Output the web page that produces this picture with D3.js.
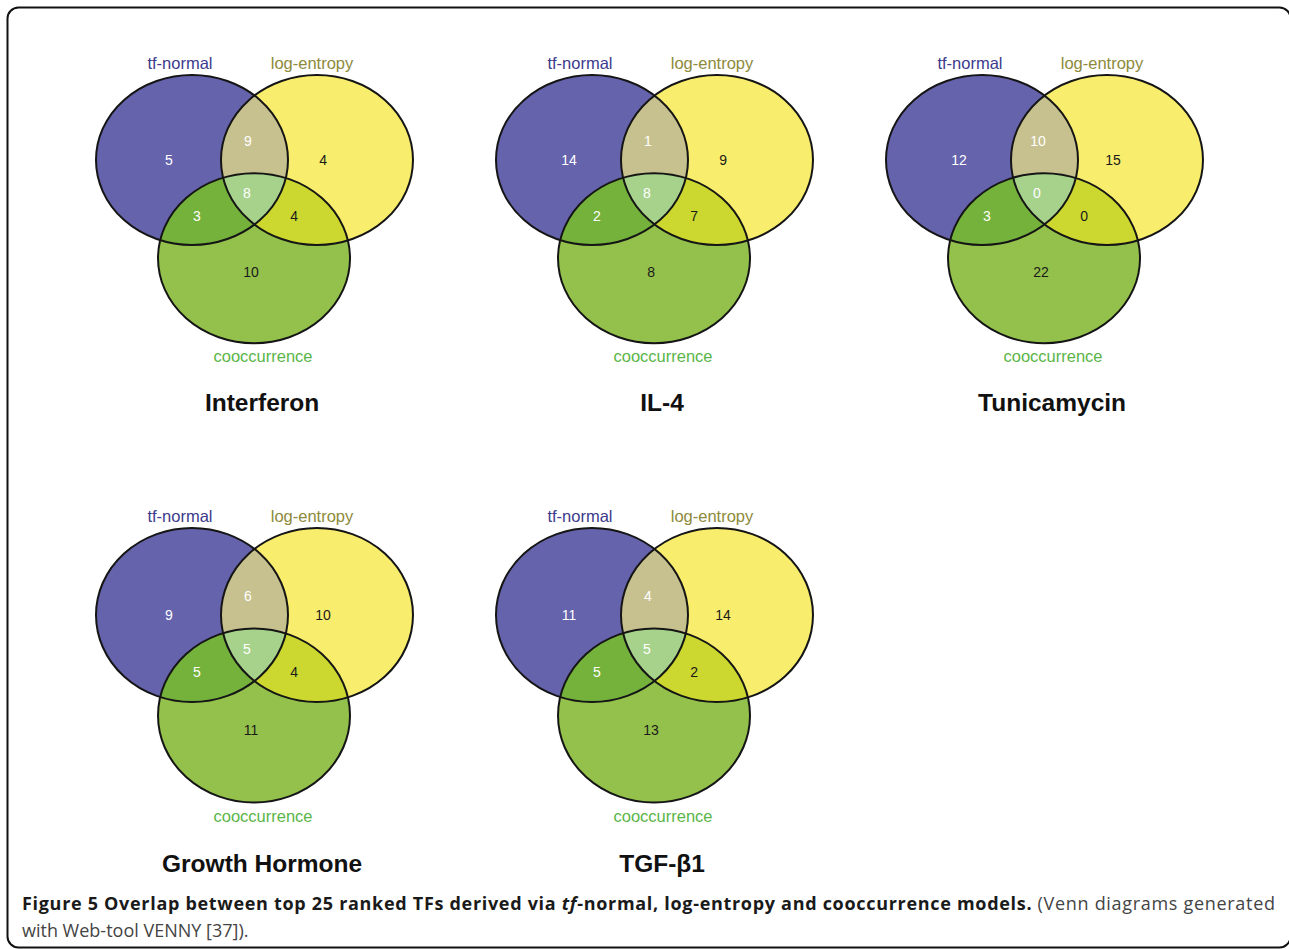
<!DOCTYPE html>
<html>
<head>
<meta charset="utf-8">
<script src="https://cdn.jsdelivr.net/npm/d3@7"></script>
<style>
  body { margin: 0; background: #fff; }
  svg { display: block; }
</style>
</head>
<body>
<svg id="fig" width="1289" height="949"></svg>
<script>
// Five conditions, three ranking models, seven Venn regions each
const conditions = ["Interferon", "IL-4", "Tunicamycin", "Growth Hormone", "TGF-β1"];
const setNames = ["tf-normal", "log-entropy", "cooccurrence"];
// region order: only tf-normal, tf∩log, only log, all three, tf∩cooc, log∩cooc, only cooc
const regionKeys = ["A", "AB", "B", "ABC", "AC", "BC", "C"];
const interferonCounts = [5, 9, 4, 8, 3, 4, 10];
const il4Counts = [14, 1, 9, 8, 2, 7, 8];
const tunicamycinCounts = [12, 10, 15, 0, 3, 0, 22];
const growthHormoneCounts = [9, 6, 10, 5, 5, 4, 11];
const tgfCounts = [11, 4, 14, 5, 5, 2, 13];
const countsByCondition = [interferonCounts, il4Counts, tunicamycinCounts, growthHormoneCounts, tgfCounts];

// ---- layout (venn units: tf-normal ellipse centred at 0,0 with unit radii) ----
const panelGrid = [[0, 0], [1, 0], [2, 0], [0, 1], [1, 1]];
const colCenter = [192, 592, 982];
const rowCenter = [160, 615];
const rowRadiusY = [85, 87];
const radiusX = 96;

const setCenters = { A: [0, 0], B: [1.302, 0], C: [0.646, 1.155] };
const regionAnchor = {
  A: [-0.24, 0], AB: [0.583, -0.224], B: [1.365, 0], ABC: [0.573, 0.39],
  AC: [0.052, 0.655], BC: [1.065, 0.66], C: [0.615, 1.32]
};
const labelAnchor = [[-0.125, -1.14], [1.25, -1.14], [0.74, 2.305]];
const titleAnchor = [0.73, 2.855];

const fills = {
  A: "#6663ad", B: "#f8ed6c", C: "#93c14b",
  AB: "#c7c18f", AC: "#74b23c", BC: "#ccd72f", ABC: "#a7d28c"
};
const numberColor = { A: "#fff", AB: "#fff", ABC: "#fff", AC: "#fff", B: "#1a1a1a", BC: "#1a1a1a", C: "#1a1a1a" };
const labelColors = ["#3b3a8c", "#8d8a3b", "#5ab548"];

const svg = d3.select("#fig");
const defs = svg.append("defs");

// outer frame (right edge runs off the page)
svg.append("rect")
  .attr("x", 7.5).attr("y", 7.5)
  .attr("width", 1283).attr("height", 940)
  .attr("rx", 11).attr("ry", 11)
  .attr("fill", "none").attr("stroke", "#111").attr("stroke-width", 2);

conditions.forEach((name, i) => {
  const [col, row] = panelGrid[i];
  const ry = rowRadiusY[row];
  const x = d3.scaleLinear().domain([0, 1]).range([colCenter[col], colCenter[col] + radiusX]);
  const y = d3.scaleLinear().domain([0, 1]).range([rowCenter[row], rowCenter[row] + ry]);
  const counts = countsByCondition[i];

  const ell = (sel, key) => sel
    .attr("cx", x(setCenters[key][0]))
    .attr("cy", y(setCenters[key][1]))
    .attr("rx", x(1) - x(0))
    .attr("ry", y(1) - y(0));

  ["A", "B", "C"].forEach(k => {
    ell(defs.append("clipPath").attr("id", `clip${k}${i}`).append("ellipse"), k);
  });

  const g = svg.append("g").attr("class", "venn");

  // single sets
  ["A", "B", "C"].forEach(k => ell(g.append("ellipse"), k).attr("fill", fills[k]));
  // pairwise overlaps
  ell(g.append("ellipse"), "B").attr("clip-path", `url(#clipA${i})`).attr("fill", fills.AB);
  ell(g.append("ellipse"), "C").attr("clip-path", `url(#clipA${i})`).attr("fill", fills.AC);
  ell(g.append("ellipse"), "C").attr("clip-path", `url(#clipB${i})`).attr("fill", fills.BC);
  // triple overlap
  ell(g.append("g").attr("clip-path", `url(#clipA${i})`).append("ellipse"), "C")
    .attr("clip-path", `url(#clipB${i})`).attr("fill", fills.ABC);
  // outlines
  ["A", "B", "C"].forEach(k => ell(g.append("ellipse"), k)
    .attr("fill", "none").attr("stroke", "#151515").attr("stroke-width", 2));

  // region counts
  g.selectAll("text.count").data(regionKeys).join("text")
    .attr("class", "count")
    .attr("x", k => x(regionAnchor[k][0]))
    .attr("y", k => y(regionAnchor[k][1]))
    .attr("text-anchor", "middle")
    .attr("dominant-baseline", "central")
    .attr("font-family", "Liberation Sans, Arial, sans-serif")
    .attr("font-size", 14)
    .attr("fill", k => numberColor[k])
    .text((k, j) => counts[j]);

  // set labels
  g.selectAll("text.setlabel").data(setNames).join("text")
    .attr("class", "setlabel")
    .attr("x", (d, j) => x(labelAnchor[j][0]))
    .attr("y", (d, j) => y(labelAnchor[j][1]))
    .attr("text-anchor", "middle")
    .attr("dominant-baseline", "central")
    .attr("font-family", "Liberation Sans, Arial, sans-serif")
    .attr("font-size", 16.5)
    .attr("fill", (d, j) => labelColors[j])
    .text(d => d);

  // condition title
  g.append("text")
    .attr("x", x(titleAnchor[0]))
    .attr("y", y(titleAnchor[1]))
    .attr("text-anchor", "middle")
    .attr("dominant-baseline", "central")
    .attr("font-family", "Liberation Sans, Arial, sans-serif")
    .attr("font-weight", "bold")
    .attr("font-size", 24.5)
    .attr("fill", "#111")
    .text(name);
});

// caption
const capFont = "Open Sans, Noto Sans, sans-serif";
const line1 = svg.append("text")
  .attr("x", 22).attr("y", 910)
  .attr("font-family", capFont).attr("font-size", 18);
line1.append("tspan").attr("font-weight", "bold").attr("fill", "#1a1a1a").text("Figure 5 Overlap between top 25 ranked TFs derived via ");
line1.append("tspan").attr("font-weight", "bold").attr("font-style", "italic").attr("fill", "#1a1a1a").text("tf");
line1.append("tspan").attr("font-weight", "bold").attr("fill", "#1a1a1a").text("-normal, log-entropy and cooccurrence models.");
line1.append("tspan").attr("fill", "#444").text(" (Venn diagrams generated");

// justify the first line to the right margin by spreading the letters
const targetWidth = 1275 - 22;
const natural = line1.node().getComputedTextLength();
const nChars = line1.text().length;
line1.attr("letter-spacing", (targetWidth - natural) / (nChars - 1));

svg.append("text")
  .attr("x", 22).attr("y", 937)
  .attr("font-family", capFont).attr("font-size", 18)
  .attr("fill", "#444")
  .text("with Web-tool VENNY [37]).");
</script>
</body>
</html>
